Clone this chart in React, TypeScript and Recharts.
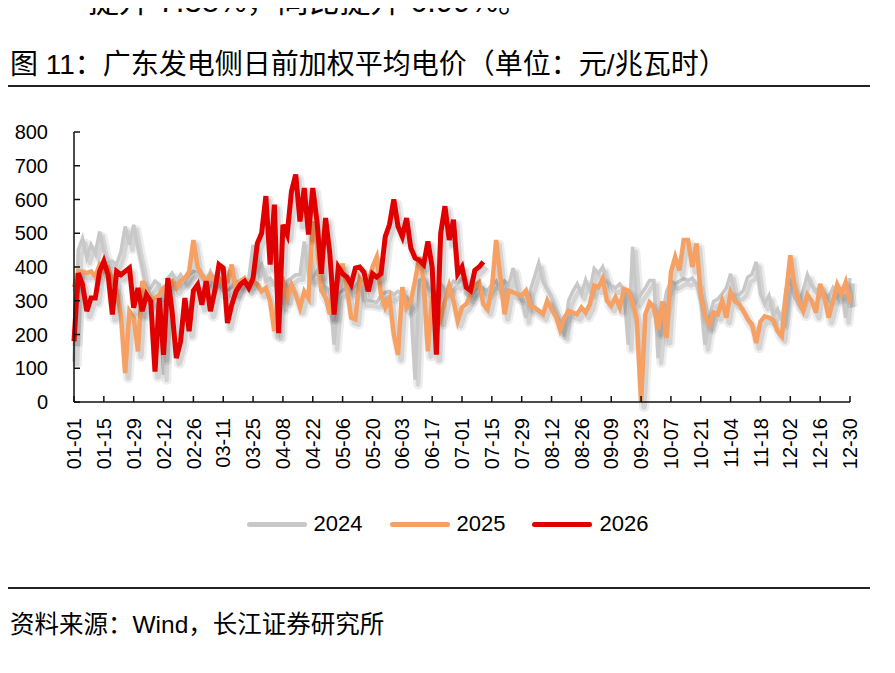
import { LineChart, Line, XAxis, YAxis, Legend } from 'recharts';

// 2024 calendar, one point every 2 days: 01-01 ... 12-30
function buildDates(): string[] {
  const out: string[] = [];
  const start = Date.UTC(2024, 0, 1);
  for (let d = 0; d <= 364; d += 2) {
    const t = new Date(start + d * 86400000);
    const mm = String(t.getUTCMonth() + 1).padStart(2, '0');
    const dd = String(t.getUTCDate()).padStart(2, '0');
    out.push(`${mm}-${dd}`);
  }
  return out;
}

const DATES = buildDates();

const TICKS = [
  '01-01', '01-15', '01-29', '02-12', '02-26', '03-11', '03-25', '04-08', '04-22',
  '05-06', '05-20', '06-03', '06-17', '07-01', '07-15', '07-29', '08-12', '08-26',
  '09-09', '09-23', '10-07', '10-21', '11-04', '11-18', '12-02', '12-16', '12-30',
];

const Y_TICKS = [0, 100, 200, 300, 400, 500, 600, 700, 800];

const P2024 = [
  120, 450, 485, 427, 466, 440, 505, 446, 417, 417,
  407, 446, 520, 466, 525, 456, 397, 328, 338, 358,
  348, 80, 367, 382, 358, 377, 358, 377, 387, 385,
  377, 358, 387, 358, 355, 328, 330, 340, 358, 350,
  358, 367, 466, 387, 407, 358, 367, 348, 358, 288,
  358, 367, 377, 377, 476, 377, 367, 387, 350, 340,
  330, 170, 320, 330, 340, 330, 345, 360, 300, 300,
  298, 295, 315, 325, 328, 318, 328, 320, 310, 288,
  66, 360, 367, 340, 328, 320, 350, 330, 338, 358,
  350, 367, 320, 310, 330, 345, 335, 330, 348, 358,
  328, 358, 348, 397, 330, 300, 250, 330, 370, 412,
  355, 335, 308, 269, 230, 200, 300, 328, 350, 320,
  362, 330, 395, 380, 400, 358, 345, 338, 350, 330,
  170, 460, 300, 320, 338, 360, 360, 130, 260, 328,
  358, 350, 358, 365, 360, 367, 350, 298, 170, 249,
  298, 305, 320, 338, 380, 320, 318, 330, 370, 378,
  415, 320, 290, 315, 255, 275, 240, 335, 358, 310,
  290, 330, 377, 345, 330, 340, 320, 310, 338, 312,
  330, 250, 367,
];

const P2025 = [
  340, 387, 387, 382, 387, 372, 407, 387, 397, 358,
  328, 259, 86, 269, 249, 150, 358, 328, 298, 308,
  318, 338, 348, 358, 338, 358, 367, 387, 480, 400,
  377, 358, 377, 358, 367, 348, 358, 407, 328, 358,
  367, 348, 358, 348, 328, 338, 298, 210, 338, 358,
  308, 348, 318, 279, 328, 308, 535, 466, 330, 310,
  260, 330, 358, 410, 340, 250, 245, 367, 350, 350,
  400, 430, 320, 280, 308, 200, 140, 340, 279, 298,
  360, 430, 360, 150, 315, 280, 245, 300, 345, 300,
  240, 280, 290, 318, 345, 355, 290, 275, 335, 480,
  370, 260, 330, 325, 320, 315, 330, 285, 280, 270,
  260, 300, 275, 255, 215, 250, 270, 265, 260, 280,
  265, 290, 345, 340, 365, 300, 285, 310, 280, 335,
  330, 295, 245, 0, 260, 295, 280, 215, 298, 190,
  385, 430, 390, 480, 480, 400, 470, 320, 255, 230,
  265, 260, 300, 250, 325, 298, 290, 270, 245, 230,
  175, 238, 254, 250, 242, 210, 195, 320, 435, 345,
  300, 270, 318, 300, 265, 350, 310, 250, 300, 348,
  320, 355, 295,
];

// 2026 only runs to mid-July
const P2026 = [
  180, 382, 348, 269, 308, 308, 387, 417, 377, 259,
  387, 377, 387, 397, 279, 338, 269, 318, 298, 90,
  308, 140, 367, 269, 130, 180, 308, 210, 330, 348,
  288, 358, 269, 328, 407, 397, 234, 288, 328, 348,
  358, 338, 367, 470, 500, 610, 407, 585, 204, 525,
  496, 624, 674, 535, 634, 496, 634, 535, 380, 545,
  440, 259, 400, 380, 370, 348, 397, 400, 385, 328,
  380, 370, 380, 490, 526, 600, 520, 490, 545, 456,
  427, 420, 407, 476, 400, 140, 500, 580, 480, 540,
  380, 400, 340, 330, 390, 400, 415,
];

const data = DATES.map((date, i) => ({
  date,
  '2024': P2024[i],
  '2025': P2025[i],
  '2026': i < P2026.length ? P2026[i] : null,
}));

const SERIES = [
  { key: '2024', color: '#C8C8C8', width: 3.5 },
  { key: '2025', color: '#F7A064', width: 4.5 },
  { key: '2026', color: '#E10000', width: 5 },
];

const FONT = "'Liberation Sans', Arial, 'Noto Sans CJK SC', sans-serif";

// soft drop shadow: same series, drawn wide and faint, nudged down-right
const SHADOW_CSS = `
.line-shadow { transform: translate(3px, 5px); }
`;

function XTick({ x, y, payload }: any) {
  return (
    <text
      x={x}
      y={y}
      transform={`rotate(-90 ${x} ${y})`}
      textAnchor="end"
      dy="0.36em"
      fontSize={20}
      fill="#000"
      fontFamily={FONT}
    >
      {payload.value}
    </text>
  );
}

function LegendContent() {
  return (
    <div style={{ display: 'flex', justifyContent: 'center', gap: 27, fontFamily: FONT, fontSize: 22 }}>
      {SERIES.map((s) => (
        <div key={s.key} style={{ display: 'flex', alignItems: 'center' }}>
          <span style={{ width: 60, height: 5, borderRadius: 3, background: s.color, marginRight: 7 }} />
          <span style={{ color: '#000' }}>{s.key}</span>
        </div>
      ))}
    </div>
  );
}

export default function App() {
  return (
    <div
      style={{
        position: 'relative',
        width: 895,
        height: 673,
        margin: -8,
        overflow: 'hidden',
        background: '#fff',
        fontFamily: FONT,
        color: '#000',
      }}
    >
      <style>{SHADOW_CSS}</style>
      <div style={{ position: 'absolute', left: 88, top: -15, fontSize: 31, lineHeight: '34px', whiteSpace: 'nowrap' }}>
        提升 7.38%，同比提升 6.99%。
      </div>
      <div style={{ position: 'absolute', left: 10, top: 49, fontSize: 28, lineHeight: '32px', whiteSpace: 'nowrap' }}>
        图 11：广东发电侧日前加权平均电价（单位：元/兆瓦时）
      </div>
      <div style={{ position: 'absolute', left: 8, top: 85, width: 862, height: 2, background: '#222' }} />

      <div style={{ position: 'absolute', left: 0, top: 0 }}>
        <LineChart width={895} height={560} data={data} margin={{ top: 132, right: 45, left: 14, bottom: 88 }}>
          <XAxis
            dataKey="date"
            ticks={TICKS}
            interval={0}
            height={70}
            tickSize={-6}
            tickMargin={22}
            tick={<XTick />}
            axisLine={{ stroke: '#111', strokeWidth: 1.5 }}
            tickLine={{ stroke: '#111', strokeWidth: 1.5 }}
          />
          <YAxis
            domain={[0, 800]}
            ticks={Y_TICKS}
            width={60}
            tickSize={-6}
            tickMargin={32}
            tick={{ fontSize: 20, fill: '#000', fontFamily: FONT }}
            axisLine={{ stroke: '#111', strokeWidth: 1.5 }}
            tickLine={{ stroke: '#111', strokeWidth: 1.5 }}
          />
          <Legend
            verticalAlign="middle"
            align="center"
            wrapperStyle={{ top: 511, left: 0, width: 895 }}
            content={<LegendContent />}
          />
          {SERIES.flatMap((s) => [
            <Line
              key={`${s.key}-sh1`}
              className="line-shadow"
              dataKey={s.key}
              legendType="none"
              stroke="#000"
              strokeOpacity={0.07}
              strokeWidth={s.width + 6}
              strokeLinejoin="round"
              dot={false}
              activeDot={false}
              type="linear"
              isAnimationActive={false}
            />,
            <Line
              key={`${s.key}-sh2`}
              className="line-shadow"
              dataKey={s.key}
              legendType="none"
              stroke="#000"
              strokeOpacity={0.1}
              strokeWidth={s.width + 1}
              strokeLinejoin="round"
              dot={false}
              activeDot={false}
              type="linear"
              isAnimationActive={false}
            />,
            <Line
              key={s.key}
              dataKey={s.key}
              name={s.key}
              stroke={s.color}
              strokeWidth={s.width}
              dot={false}
              activeDot={false}
              type="linear"
              isAnimationActive={false}
            />,
          ])}
        </LineChart>
      </div>

      <div style={{ position: 'absolute', left: 8, top: 587, width: 862, height: 2, background: '#222' }} />
      <div style={{ position: 'absolute', left: 10, top: 610, fontSize: 24.5, lineHeight: '30px', whiteSpace: 'nowrap' }}>
        资料来源：Wind，长江证券研究所
      </div>
    </div>
  );
}
